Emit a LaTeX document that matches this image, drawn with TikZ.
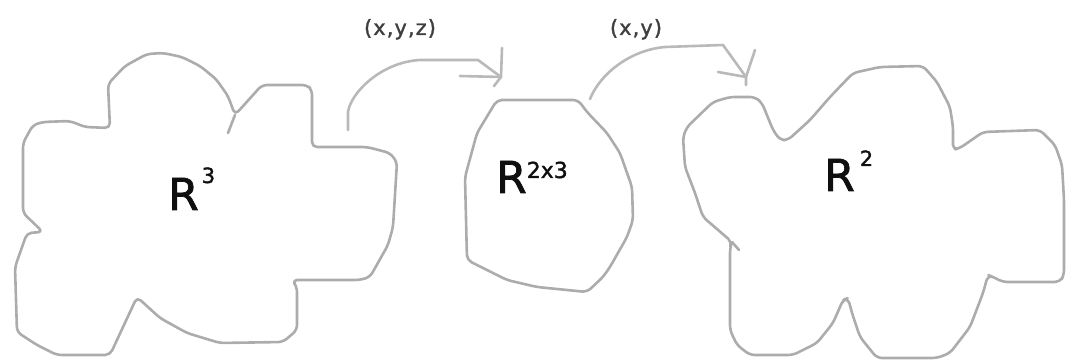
\documentclass[tikz,border=0pt]{standalone}
\usepackage{fontspec}
\setmainfont{DejaVu Sans}
\newfontfamily\heavyfont[FakeBold=1.6]{DejaVu Sans}
\newfontfamily\labelfont[LetterSpace=5,FakeBold=1.4]{DejaVu Sans}
\definecolor{pencil}{RGB}{172,172,172}
\definecolor{pencillight}{RGB}{185,185,185}
\definecolor{ink}{RGB}{15,15,15}
\tikzset{
  blob/.style={draw=pencil, line width=2.6pt, line join=round, line cap=round, rounded corners=5pt},
  stroke/.style={draw=pencillight, line width=2.6pt, line join=round, line cap=round},
  space/.style={inner sep=0pt, anchor=base west, text=ink, font=\heavyfont\fontsize{44}{44}\selectfont},
  maplabel/.style={inner sep=0pt, anchor=base, text=ink!80, font=\labelfont\fontsize{21}{21}\selectfont}
}
\begin{document}
\begin{tikzpicture}[x=1pt,y=-1pt]
\useasboundingbox (0,0) rectangle (1067,363);

% left region
\draw[blob] (110,128) -- (108,84) -- (125,66) -- (147,54) -- (163,53) -- (182,57)
  -- (200,66) -- (216,79) -- (228,96) -- (235,115) -- (262,85) -- (307,85) -- (312,90)
  -- (312,147) -- (367,147) -- (390,153) -- (397,162) -- (393,227) -- (388,245)
  -- (370,277) -- (360,280) -- (292,280) -- (297,287) -- (297,330) -- (283,342)
  -- (220,343) -- (187,333) -- (160,318) -- (137,297) -- (110,355) -- (57,355)
  -- (37,345) -- (17,332) -- (15,267) -- (27,233) -- (43,232) -- (23,213) -- (23,143)
  -- (33,125) -- (43,122) -- (70,121) -- (85,127) -- cycle;
\draw[stroke, draw=pencil] (235,115) -- (228,133);

% middle region
\draw[blob] (497,100) -- (578,100) -- (587,112) -- (607,133) -- (620,153) -- (632,187)
  -- (633,220) -- (627,237) -- (610,267) -- (603,277) -- (587,292) -- (537,287)
  -- (507,280) -- (467,260) -- (465,177) -- (477,133) -- cycle;

% right region
\draw[blob] (687,127) -- (713,102) -- (730,97) -- (755,97) -- (762,103) -- (773,130)
  -- (780,140) -- (788,140) -- (810,120) -- (830,97) -- (853,73) -- (880,67) -- (923,66)
  -- (937,82) -- (950,107) -- (953,127) -- (953,150) -- (960,148) -- (983,132)
  -- (1040,130) -- (1055,145) -- (1062,165) -- (1064,200) -- (1064,275) -- (1060,282)
  -- (1003,282) -- (993,277) -- (988,275) -- (983,293) -- (970,327) -- (950,353)
  -- (937,358) -- (877,358) -- (860,337) -- (852,313) -- (848,298) -- (843,300)
  -- (833,323) -- (817,343) -- (793,355) -- (750,355) -- (737,345) -- (730,330)
  -- (730,248) -- (732,242) -- (703,217) -- (695,193) -- (685,167) -- (683,137) -- cycle;
\draw[stroke, draw=pencil] (732,242) -- (739,250);

% space labels
\node[space] (r3)  at (168,210) {R\hspace{3pt}\raisebox{27pt}{\fontsize{21}{21}\selectfont 3}};
\node[space] (r23) at (496,193) {R\raisebox{15pt}{\fontsize{22}{22}\selectfont 2x3}};
\node[space] (r2)  at (824,191) {R\hspace{5pt}\raisebox{25pt}{\fontsize{21}{21}\selectfont 2}};

% maps
\coordinate (s1) at (348,130);
\coordinate (t1) at (501,77);
\coordinate (s2) at (590,99);
\coordinate (t2) at (746,77);

\draw[stroke] (s1) -- (348,112) .. controls (351,92) and (382,62) .. (420,60) -- (478,60) -- (t1);
\draw[stroke] (460,76) -- (t1);
\draw[stroke] (502,48) -- (t1) -- (494,86);
\node[maplabel] (m1) at (400,35) {(x,y,z)};

\draw[stroke] (s2) .. controls (600,74) and (630,50) .. (665,47) -- (723,45) -- (t2);
\draw[stroke] (718,72) -- (t2);
\draw[stroke] (755,50) -- (t2) -- (746,85);
\node[maplabel] (m2) at (636,35) {(x,y)};
\end{tikzpicture}
\end{document}
